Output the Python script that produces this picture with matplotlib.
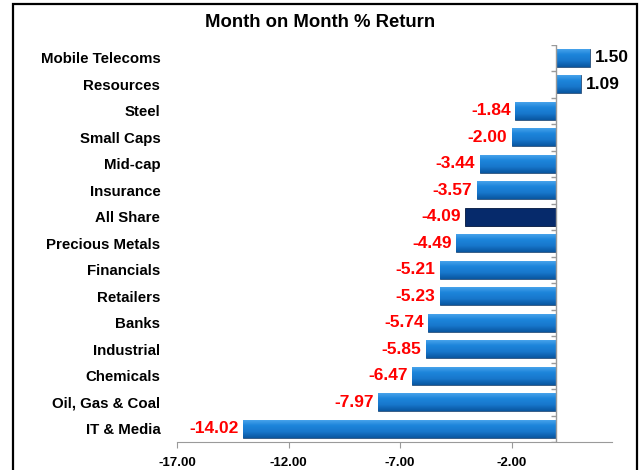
import matplotlib.pyplot as plt
import numpy as np
from matplotlib.patches import Rectangle
from matplotlib.colors import LinearSegmentedColormap

sectors = ['Mobile Telecoms', 'Resources', 'Steel', 'Small Caps', 'Mid-cap',
           'Insurance', 'All Share', 'Precious Metals', 'Financials', 'Retailers',
           'Banks', 'Industrial', 'Chemicals', 'Oil, Gas & Coal', 'IT & Media']
returns = [1.50, 1.09, -1.84, -2.00, -3.44, -3.57, -4.09, -4.49, -5.21, -5.23,
           -5.74, -5.85, -6.47, -7.97, -14.02]
highlight = 'All Share'
xticks = [-17, -12, -7, -2]

plt.rcParams['font.family'] = ['Liberation Sans', 'DejaVu Sans']
plt.rcParams['font.weight'] = 'bold'

fig = plt.figure(figsize=(6.41, 4.70), dpi=100)
ax = fig.add_axes([0.2761, 0.0596, 0.9548 - 0.2761, 0.9049 - 0.0596])

ypos = np.arange(len(sectors))
bars = ax.barh(ypos, returns, height=0.68, color='#1a7fd6',
               edgecolor='#2c4f78', linewidth=0.6, zorder=2)

# vertical gradient on the blue bars, like the excel bevel
blue = LinearSegmentedColormap.from_list('bevel', ['#0a56a0', '#1777cc', '#1d85db', '#4ea8ee'])
grad = np.linspace(0, 1, 64).reshape(-1, 1)
for bar, name in zip(bars, sectors):
    if name == highlight:
        bar.set_facecolor('#062a6b')
        bar.set_edgecolor('#02163d')
        continue
    x0, y0 = bar.get_x(), bar.get_y()
    w, h = bar.get_width(), bar.get_height()
    im = ax.imshow(grad, cmap=blue, aspect='auto', origin='upper',
                   extent=[x0, x0 + w, y0, y0 + h], zorder=2.5)
    im.set_clip_path(bar)

for y, v in zip(ypos, returns):
    if v >= 0:
        ax.text(v + 0.22, y, f'{v:.2f}', va='center', ha='left',
                fontsize=12.5, fontweight='bold', color='black')
    else:
        ax.text(v - 0.2, y, f'{v:.2f}', va='center', ha='right',
                fontsize=12.5, fontweight='bold', color='#ff0000')

# category axis at zero with boundary ticks
ax.axvline(0, color='#9a9a9a', lw=1, zorder=3)
ax.hlines(np.arange(-0.5, len(sectors), 1), -0.22, 0, color='#9a9a9a', lw=1, zorder=3)

ax.set_xlim(-17, 2.5)
ax.set_ylim(len(sectors) - 0.5, -0.5)
ax.set_xticks(xticks)
ax.set_xticklabels([f'{t:.2f}' for t in xticks], fontsize=9.5, fontweight='bold')
ax.set_yticks(ypos)
ax.set_yticklabels(sectors, fontsize=10.8, fontweight='bold')
ax.tick_params(axis='y', length=0, pad=12)
ax.tick_params(axis='x', length=4, color='#9a9a9a', pad=7)
for s in ['top', 'right', 'left']:
    ax.spines[s].set_visible(False)
ax.spines['bottom'].set_color('#9a9a9a')

fig.text(0.5, 0.953, 'Month on Month % Return', ha='center', va='center',
         fontsize=13.3, fontweight='bold')

fig.patches.append(Rectangle((13 / 641, -0.02), 624 / 641, 1.02 - 4 / 470,
                             transform=fig.transFigure, fill=False,
                             edgecolor='black', linewidth=1.6))

fig.savefig('out.png', dpi=100)
